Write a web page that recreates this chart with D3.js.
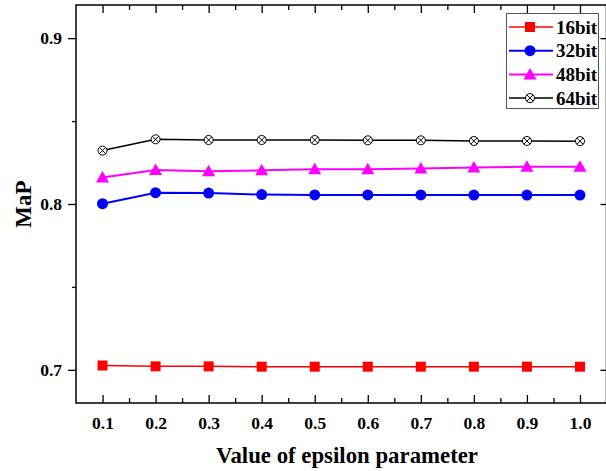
<!DOCTYPE html>
<html>
<head>
<meta charset="utf-8">
<script src="https://cdn.jsdelivr.net/npm/d3@7"></script>
<style>
  html, body { margin: 0; padding: 0; background: #fff; }
  svg { display: block; }
  text { font-family: "Liberation Serif", "Times New Roman", serif; font-weight: bold; fill: #000; }
</style>
</head>
<body>
<svg id="chart" width="606" height="471"></svg>
<script>
// Epsilon values on the x axis
const epsilon = [0.1, 0.2, 0.3, 0.4, 0.5, 0.6, 0.7, 0.8, 0.9, 1.0];

// MaP for each hash code length
const map16 = [0.7026, 0.7021, 0.7021, 0.7019, 0.7019, 0.7019, 0.7019, 0.7019, 0.7019, 0.7019];
const map32 = [0.8002, 0.8068, 0.8066, 0.8057, 0.8055, 0.8055, 0.8055, 0.8054, 0.8054, 0.8054];
const map48 = [0.8160, 0.8205, 0.8198, 0.8203, 0.8209, 0.8209, 0.8214, 0.8220, 0.8224, 0.8224];
const map64 = [0.8322, 0.8390, 0.8386, 0.8386, 0.8386, 0.8384, 0.8384, 0.8380, 0.8380, 0.8379];

const seriesNames = ["16bit", "32bit", "48bit", "64bit"];
const seriesColors = ["#ff0000", "#0000ff", "#ff00ff", "#000000"];
const seriesMarkers = ["square", "circle", "triangle", "crossCircle"];

const xTickLabels = ["0.1", "0.2", "0.3", "0.4", "0.5", "0.6", "0.7", "0.8", "0.9", "1.0"];
const yTickValues = [0.7, 0.8, 0.9];
const yTickLabels = ["0.7", "0.8", "0.9"];

const series = [map16, map32, map48, map64].map((vals, i) => ({
  name: seriesNames[i], color: seriesColors[i], marker: seriesMarkers[i],
  points: vals.map((v, j) => ({ x: epsilon[j], y: v }))
}));

const svg = d3.select("#chart");
const plotLeft = 76, plotRight = 606.5, plotTop = 5, plotBottom = 403;

const x = d3.scaleLinear().domain([0.05, 1.05]).range([plotLeft, plotRight]);
const y = d3.scaleLinear().domain([0.68, 0.92]).range([plotBottom, plotTop]);

// Frame
svg.append("rect")
  .attr("x", plotLeft).attr("y", plotTop)
  .attr("width", plotRight - plotLeft).attr("height", plotBottom - plotTop)
  .attr("fill", "none").attr("stroke", "#000").attr("stroke-width", 1.5);

const minorX = d3.range(0.15, 1.05, 0.1);
const minorY = [0.75, 0.85];

// Bottom axis: inward ticks with labels
const gBottom = svg.append("g").attr("transform", `translate(0,${plotBottom})`);
gBottom.call(d3.axisBottom(x).tickValues(epsilon).tickSizeInner(-8).tickSizeOuter(0)
  .tickPadding(14).tickFormat((d, i) => xTickLabels[i]));
gBottom.append("g").call(d3.axisBottom(x).tickValues(minorX).tickSizeInner(-5).tickSizeOuter(0).tickFormat(""));

// Top axis: inward ticks only
const gTop = svg.append("g").attr("transform", `translate(0,${plotTop})`);
gTop.call(d3.axisTop(x).tickValues(epsilon).tickSizeInner(-8).tickSizeOuter(0).tickFormat(""));
gTop.append("g").call(d3.axisTop(x).tickValues(minorX).tickSizeInner(-5).tickSizeOuter(0).tickFormat(""));

// Left axis: outward ticks with labels
const gLeft = svg.append("g").attr("transform", `translate(${plotLeft},0)`);
gLeft.call(d3.axisLeft(y).tickValues(yTickValues).tickSizeInner(8).tickSizeOuter(0)
  .tickPadding(6).tickFormat((d, i) => yTickLabels[i]));
gLeft.append("g").call(d3.axisLeft(y).tickValues(minorY).tickSizeInner(4).tickSizeOuter(0).tickFormat(""));

// Right axis: inward ticks
const gRight = svg.append("g").attr("transform", `translate(${plotRight},0)`);
gRight.call(d3.axisRight(y).tickValues(yTickValues).tickSizeInner(-6).tickSizeOuter(0).tickFormat(""));

svg.selectAll(".domain").remove();
svg.selectAll(".tick line").attr("stroke", "#000").attr("stroke-width", 1.3);
svg.selectAll(".tick text")
  .attr("font-family", "Liberation Serif, Times New Roman, serif")
  .attr("font-weight", "bold").attr("font-size", 17.5).attr("fill", "#000");

// Axis titles
svg.append("text")
  .attr("x", 347).attr("y", 463)
  .attr("text-anchor", "middle").attr("font-size", 22.8)
  .text("Value of epsilon parameter");
svg.append("text")
  .attr("transform", `translate(31,${y(0.8)}) rotate(-90)`)
  .attr("text-anchor", "middle").attr("font-size", 23)
  .text("MaP");

// Marker drawing
function drawMarker(g, type, color, cx, cy) {
  if (type === "square") {
    g.append("rect").attr("x", cx - 5).attr("y", cy - 5).attr("width", 10).attr("height", 10)
      .attr("fill", color);
  } else if (type === "circle") {
    g.append("circle").attr("cx", cx).attr("cy", cy).attr("r", 5.5).attr("fill", color);
  } else if (type === "triangle") {
    g.append("path").attr("d", `M${cx},${cy - 6.5}L${cx + 6.5},${cy + 5}L${cx - 6.5},${cy + 5}Z`)
      .attr("fill", color);
  } else {
    g.append("circle").attr("cx", cx).attr("cy", cy).attr("r", 4.5)
      .attr("fill", "#fff").attr("stroke", color).attr("stroke-width", 1);
    const d = 3.2;
    g.append("path").attr("d", `M${cx - d},${cy - d}L${cx + d},${cy + d}M${cx - d},${cy + d}L${cx + d},${cy - d}`)
      .attr("stroke", color).attr("stroke-width", 1);
  }
}

const line = d3.line().x(d => x(d.x)).y(d => y(d.y));
const lineWidths = [1.5, 2, 2, 1.5];

series.forEach((s, i) => {
  const g = svg.append("g");
  g.append("path").datum(s.points).attr("d", line)
    .attr("fill", "none").attr("stroke", s.color).attr("stroke-width", lineWidths[i]);
  s.points.forEach(p => drawMarker(g, s.marker, s.color, x(p.x), y(p.y)));
});

// Legend
const legend = svg.append("g");
legend.append("rect").attr("x", 506.5).attr("y", 13.5).attr("width", 92).attr("height", 95)
  .attr("fill", "#fff").attr("stroke", "#555").attr("stroke-width", 1);
series.forEach((s, i) => {
  const cy = 27 + i * 23.7;
  legend.append("line").attr("x1", 509).attr("x2", 553).attr("y1", cy).attr("y2", cy)
    .attr("stroke", s.color).attr("stroke-width", lineWidths[i]);
  drawMarker(legend, s.marker, s.color, 530, cy);
  legend.append("text").attr("x", 556).attr("y", cy + 6.5).attr("font-size", 19).text(s.name);
});
</script>
</body>
</html>
